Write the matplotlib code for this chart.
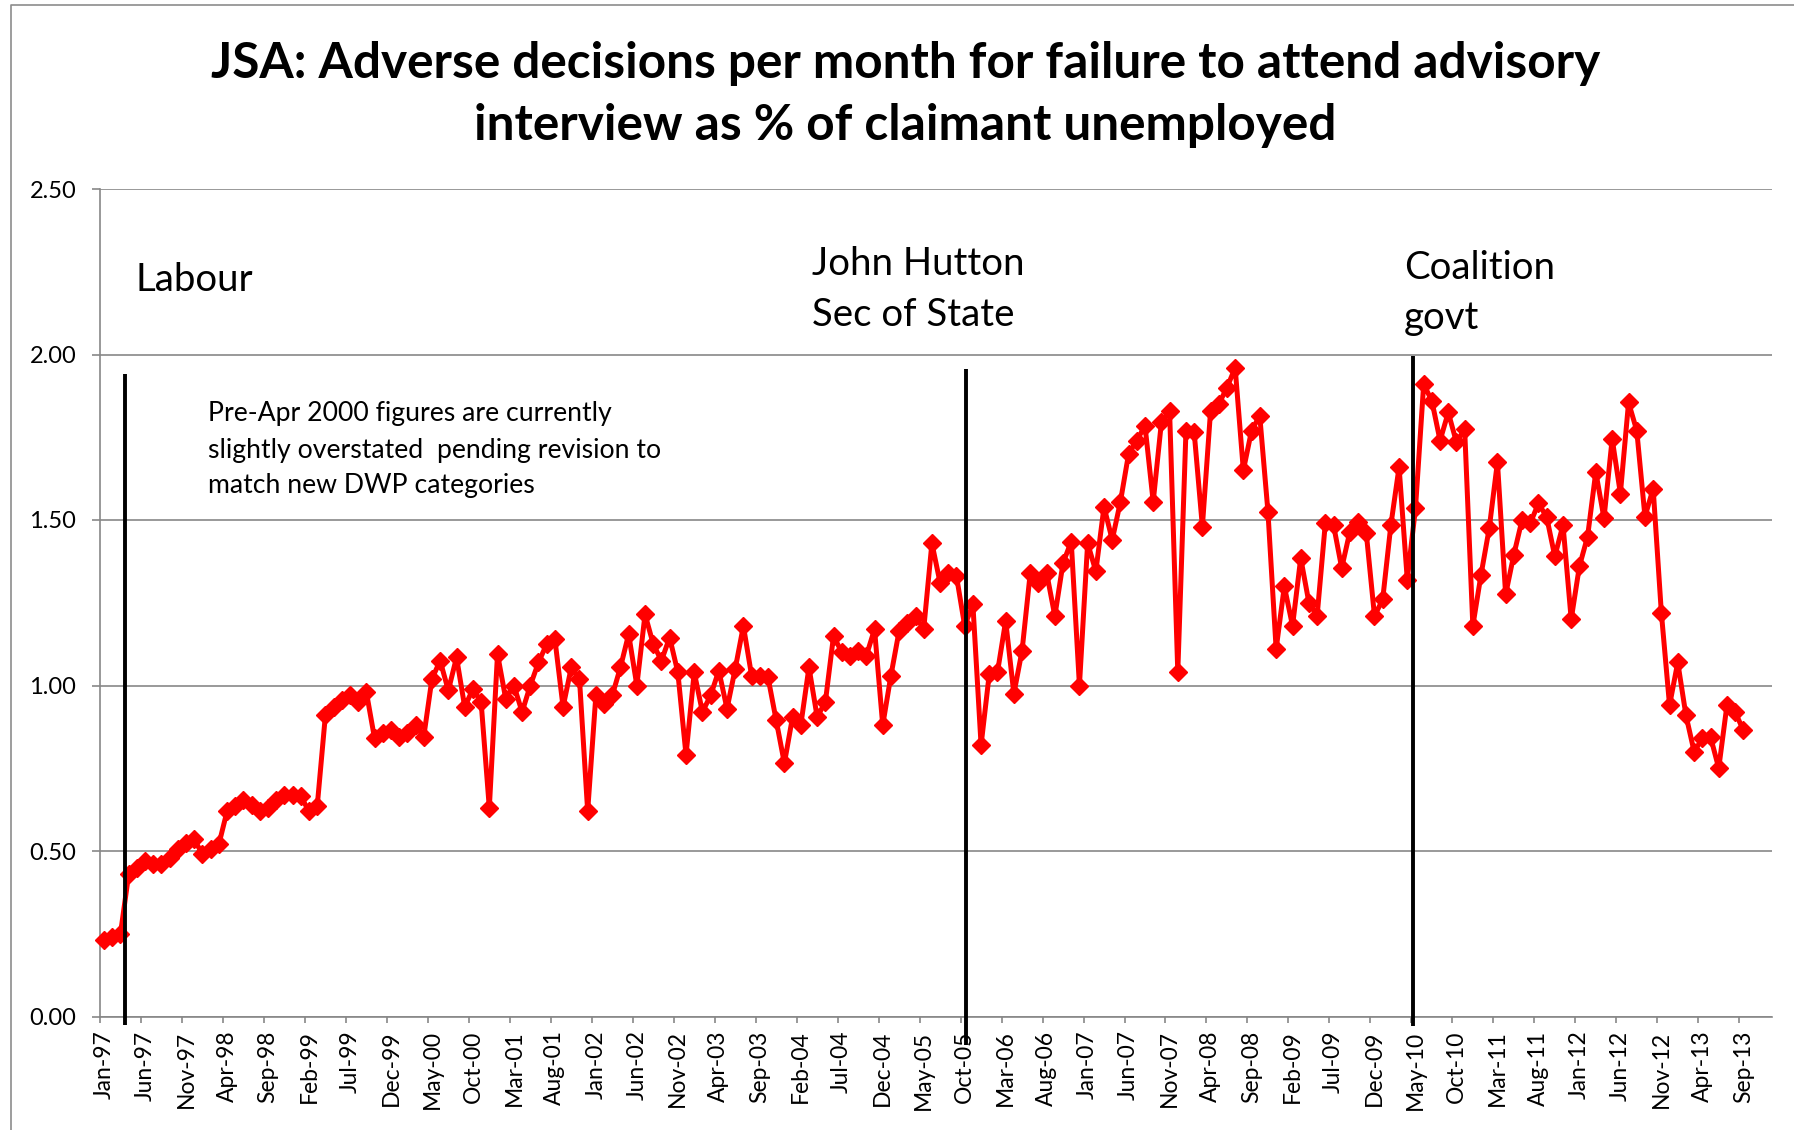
import matplotlib
matplotlib.use('Agg')
import matplotlib.pyplot as plt
from matplotlib.lines import Line2D

FONT = ['Lato', 'DejaVu Sans']
plt.rcParams['font.family'] = FONT

# ---------------- data (monthly, Jan-97 .. Sep-13) ----------------
v1997 = [0.23, 0.24, 0.25, 0.43, 0.45, 0.47, 0.46, 0.46, 0.48, 0.505, 0.525, 0.535]
v1998 = [0.49, 0.505, 0.52, 0.62, 0.635, 0.655, 0.64, 0.62, 0.63, 0.655, 0.67, 0.67]
v1999 = [0.665, 0.62, 0.635, 0.91, 0.935, 0.955, 0.97, 0.95, 0.98, 0.84, 0.855, 0.865]
v2000 = [0.845, 0.855, 0.88, 0.845, 1.02, 1.075, 0.985, 1.085, 0.935, 0.99, 0.95, 0.63]
v2001 = [1.095, 0.96, 1.00, 0.92, 1.00, 1.07, 1.125, 1.14, 0.935, 1.055, 1.02, 0.62]
v2002 = [0.97, 0.945, 0.97, 1.055, 1.155, 1.00, 1.215, 1.125, 1.075, 1.145, 1.04, 0.79]
v2003 = [1.04, 0.92, 0.97, 1.045, 0.93, 1.05, 1.18, 1.03, 1.03, 1.025, 0.895, 0.765]
v2004 = [0.905, 0.88, 1.055, 0.905, 0.95, 1.15, 1.10, 1.09, 1.105, 1.09, 1.17, 0.88]
v2005 = [1.03, 1.165, 1.19, 1.21, 1.17, 1.43, 1.31, 1.34, 1.33, 1.18, 1.245, 0.82]
v2006 = [1.035, 1.04, 1.195, 0.975, 1.105, 1.34, 1.31, 1.34, 1.21, 1.37, 1.435, 1.00]
v2007 = [1.43, 1.345, 1.54, 1.44, 1.555, 1.70, 1.74, 1.785, 1.555, 1.795, 1.83, 1.04]
v2008 = [1.77, 1.765, 1.48, 1.83, 1.85, 1.90, 1.96, 1.65, 1.77, 1.815, 1.525, 1.11]
v2009 = [1.30, 1.18, 1.385, 1.25, 1.21, 1.49, 1.485, 1.355, 1.465, 1.495, 1.46, 1.21]
v2010 = [1.26, 1.485, 1.66, 1.32, 1.535, 1.91, 1.86, 1.74, 1.825, 1.735, 1.775, 1.18]
v2011 = [1.335, 1.475, 1.675, 1.275, 1.395, 1.50, 1.49, 1.55, 1.51, 1.39, 1.485, 1.20]
v2012 = [1.36, 1.45, 1.645, 1.505, 1.745, 1.58, 1.855, 1.77, 1.51, 1.595, 1.22, 0.94]
v2013 = [1.07, 0.91, 0.80, 0.84, 0.845, 0.75, 0.94, 0.92, 0.865]

values = (v1997 + v1998 + v1999 + v2000 + v2001 + v2002 + v2003 + v2004 +
          v2005 + v2006 + v2007 + v2008 + v2009 + v2010 + v2011 + v2012 + v2013)

n_categories = 204          # Jan-97 .. Dec-13 on the category axis
label_step = 5
tick_labels = ['Jan-97', 'Jun-97', 'Nov-97', 'Apr-98', 'Sep-98', 'Feb-99', 'Jul-99',
               'Dec-99', 'May-00', 'Oct-00', 'Mar-01', 'Aug-01', 'Jan-02', 'Jun-02',
               'Nov-02', 'Apr-03', 'Sep-03', 'Feb-04', 'Jul-04', 'Dec-04', 'May-05',
               'Oct-05', 'Mar-06', 'Aug-06', 'Jan-07', 'Jun-07', 'Nov-07', 'Apr-08',
               'Sep-08', 'Feb-09', 'Jul-09', 'Dec-09', 'May-10', 'Oct-10', 'Mar-11',
               'Aug-11', 'Jan-12', 'Jun-12', 'Nov-12', 'Apr-13', 'Sep-13']
y_ticks = [0.0, 0.5, 1.0, 1.5, 2.0, 2.5]

title_lines = ['JSA: Adverse decisions per month for failure to attend advisory',
               'interview as % of claimant unemployed']
note_lines = ['Pre-Apr 2000 figures are currently',
              'slightly overstated  pending revision to',
              'match new DWP categories']

# ---------------- layout ----------------
W, H = 1794, 1130
fig = plt.figure(figsize=(W / 100, H / 100), dpi=100)
fig.patch.set_facecolor('white')

def fx(px):
    return px / W

def fy(py):
    return 1 - py / H

L, R, T, B = 100, 1772, 189, 1016.5
ax = fig.add_axes([fx(L), fy(B), fx(R - L), (B - T) / H])

GRID = '#878787'
RED = '#FF0000'

ax.plot(range(len(values)), values, color=RED, lw=3.6, marker='D', ms=9.5,
        mfc=RED, mec=RED, zorder=4, clip_on=False)

ax.set_xlim(-0.5, n_categories - 0.5)
ax.set_ylim(0, 2.5)
ax.set_yticks(y_ticks)
ax.set_yticklabels(['%.2f' % t for t in y_ticks])
ax.yaxis.grid(True, color=GRID, lw=1.2)
ax.set_axisbelow(True)
for s in ['top', 'right']:
    ax.spines[s].set_visible(False)
for s in ['left', 'bottom']:
    ax.spines[s].set_color(GRID)
    ax.spines[s].set_linewidth(1.2)

major_pos = list(range(0, len(tick_labels) * label_step, label_step))
ax.set_xticks(major_pos)
ax.set_xticklabels(tick_labels)
ax.set_xticks([p - 0.5 for p in range(0, n_categories, label_step)], minor=True)
ax.tick_params(axis='x', which='major', length=0, pad=10, labelrotation=90,
               labelsize=16.5)
ax.tick_params(axis='x', which='minor', length=4.5, width=1.2, color=GRID)
ax.tick_params(axis='y', length=6, width=1.2, color=GRID, pad=11, labelsize=17)

# event lines (category positions)
event_x = [2.5, 105.1, 159.66]
event_y0 = [-0.025, -0.085, -0.03]
event_y1 = [1.94, 1.957, 1.995]
for xe, y0, y1 in zip(event_x, event_y0, event_y1):
    ax.plot([xe, xe], [y0, y1], color='black', lw=2.8, zorder=5, clip_on=False,
            solid_capstyle='butt')

renderer = fig.canvas.get_renderer()

def fit(t, target_w):
    w = t.get_window_extent(renderer).width
    t.set_fontsize(t.get_fontsize() * target_w / w)
    return t.get_fontsize()

# title
t1 = fig.text(fx(905.5), fy(77.8), title_lines[0], ha='center', va='baseline',
              fontsize=30, fontweight='bold')
ts = fit(t1, 1388)
fig.text(fx(905.5), fy(139.6), title_lines[1], ha='center', va='baseline',
         fontsize=ts, fontweight='bold')

# annotations
th = fig.text(fx(812), fy(274.6), 'John Hutton', ha='left', va='baseline', fontsize=24)
asz = fit(th, 212)
fig.text(fx(812), fy(326), 'Sec of State', ha='left', va='baseline', fontsize=asz)
fig.text(fx(135), fy(290.6), 'Labour', ha='left', va='baseline', fontsize=asz)
fig.text(fx(1404), fy(279), 'Coalition', ha='left', va='baseline', fontsize=asz)
fig.text(fx(1404), fy(329.5), 'govt', ha='left', va='baseline', fontsize=asz)

tn = fig.text(fx(208), fy(421), note_lines[0], ha='left', va='baseline', fontsize=16)
nsz = fit(tn, 405)
fig.text(fx(208), fy(457.6), note_lines[1], ha='left', va='baseline', fontsize=nsz)
fig.text(fx(208), fy(493), note_lines[2], ha='left', va='baseline', fontsize=nsz)

# outer chart-area border (cropped)
fig.add_artist(Line2D([fx(11.4), fx(11.4), 1.0], [0.0, fy(4.6), fy(4.6)],
                      transform=fig.transFigure, color='#8c8c8c', lw=1.2))

fig.savefig('out.png', dpi=100, facecolor='white')
